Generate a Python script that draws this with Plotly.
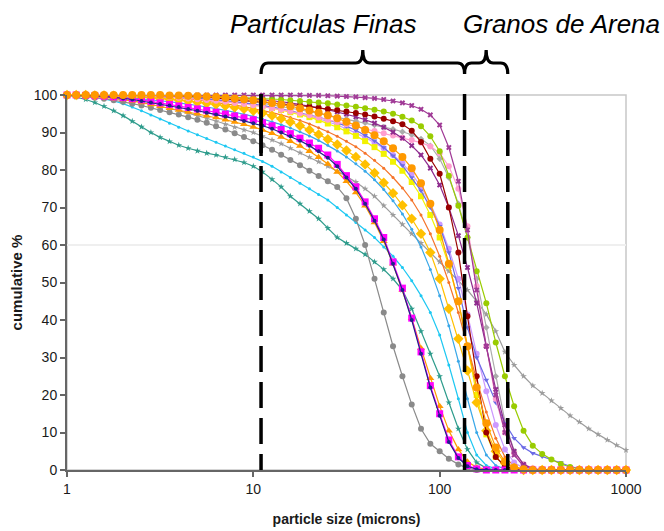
import math
import plotly.graph_objects as go

# ---------------- data ----------------
sizes = [1.00, 1.12, 1.26, 1.41, 1.58, 1.78, 2.00, 2.24, 2.51, 2.82,
         3.16, 3.55, 3.98, 4.47, 5.01, 5.62, 6.31, 7.08, 7.94, 8.91,
         10.0, 11.2, 12.6, 14.1, 15.8, 17.8, 20.0, 22.4, 25.1, 28.2,
         31.6, 35.5, 39.8, 44.7, 50.1, 56.2, 63.1, 70.8, 79.4, 89.1,
         100, 112, 126, 141, 158, 178, 200, 224, 251, 282,
         316, 355, 398, 447, 501, 562, 631, 708, 794, 891, 1000]

teal = [100, 99.5, 98.8, 98, 97, 95.8, 94.5, 93, 91.5, 90,
        88.7, 87.6, 86.6, 85.8, 85.1, 84.5, 84, 83.4, 82.8, 82,
        81, 79.5, 77.5, 75.5, 73, 71, 69, 67, 64.5, 62,
        60.5, 59, 57.5, 55.5, 53.5, 51, 48, 43, 37, 31,
        25, 18, 11, 5.5, 2, 0.5, 0, 0, 0, 0,
        0, 0, 0, 0, 0, 0, 0, 0, 0, 0, 0]

cyan = [100, 99.9, 99.7, 99.4, 99, 98.4, 97.7, 96.8, 95.8, 94.7,
        93.6, 92.5, 91.4, 90.4, 89.4, 88.4, 87.4, 86.4, 85.4, 84.5,
        83.5, 82.3, 81, 79.5, 78, 76.5, 75, 73.5, 72, 70,
        68, 66, 64, 62, 59.5, 57, 54, 50.5, 46.5, 42,
        36, 28, 19, 10, 4, 1.2, 0.3, 0, 0, 0,
        0, 0, 0, 0, 0, 0, 0, 0, 0, 0, 0]

gray_round = [100, 99.8, 99.6, 99.3, 99, 98.6, 98.2, 97.7, 97.2, 96.6,
              96, 95.4, 94.8, 94.1, 93.4, 92.6, 91.7, 90.8, 89.8, 88.8,
              87.7, 86.6, 85.4, 84.1, 82.7, 81.3, 79.8, 78.4, 77, 75.5,
              72.5, 67, 60, 51, 42, 33, 25, 17.5, 11, 7,
              5, 3, 1.5, 0.5, 0, 0, 0, 0, 0, 0,
              0, 0, 0, 0, 0, 0, 0, 0, 0, 0, 0]

gray_tail = [100, 99.9, 99.8, 99.6, 99.4, 99.1, 98.8, 98.4, 98, 97.5,
             97, 96.4, 95.8, 95.2, 94.5, 93.8, 93, 92.2, 91.4, 90.7,
             90, 89, 88, 87, 85.8, 84.6, 83.4, 82.2, 81, 79.7,
             78.3, 76.8, 75, 73, 70.5, 68, 65.5, 63, 60.5, 58,
             55.5, 53, 50.5, 48, 45, 41.5, 37, 31.5, 28, 25,
             22.5, 20.5, 18.5, 16.5, 14.5, 12.8, 11, 9.5, 8, 6.6, 5.3]

gray_light = [100, 100, 100, 100, 100, 100, 100, 100, 100, 100,
              100, 100, 99.9, 99.8, 99.7, 99.5, 99.3, 99.1, 98.8, 98.5,
              98.2, 97.8, 97.4, 97, 96.6, 96.1, 95.6, 95.1, 94.6, 94.1,
              93.6, 93.1, 92.6, 92, 91.5, 90.9, 90.2, 89.4, 88.3, 86.5,
              83, 78, 71, 62, 51, 38, 25, 13, 5, 1.5,
              0.3, 0, 0, 0, 0, 0, 0, 0, 0, 0, 0]

navy = [100, 100, 99.9, 99.8, 99.6, 99.4, 99.1, 98.8, 98.4, 98,
        97.6, 97.2, 96.8, 96.3, 95.8, 95.3, 94.8, 94.3, 93.7, 93.1,
        92.5, 91.8, 91, 90, 89, 87.8, 86.5, 85, 83.3, 81,
        78, 75, 71, 66.5, 61.5, 55, 48, 40, 31, 22,
        14.5, 7.5, 3.2, 1, 0.2, 0, 0, 0, 0, 0,
        0, 0, 0, 0, 0, 0, 0, 0, 0, 0, 0]

orange_tri = [100, 99.9, 99.8, 99.6, 99.4, 99.1, 98.8, 98.4, 98, 97.5,
              97, 96.5, 96, 95.5, 95, 94.5, 94, 93.4, 92.8, 92.2,
              91.5, 90.7, 89.8, 88.8, 87.7, 86.4, 85, 83.4, 81.6, 79.5,
              77, 74, 70.5, 66, 61, 55, 48, 40.5, 32.5, 24.5,
              17, 10.5, 5.5, 2.2, 0.7, 0.2, 0, 0, 0, 0,
              0, 0, 0, 0, 0, 0, 0, 0, 0, 0, 0]

magenta = [100, 100, 99.9, 99.8, 99.7, 99.5, 99.3, 99, 98.7, 98.3,
           97.9, 97.5, 97.1, 96.7, 96.3, 95.9, 95.4, 94.9, 94.4, 93.9,
           93.4, 92.6, 91.8, 90.8, 89.7, 88.5, 87.2, 85.8, 84, 81.5,
           78.5, 75.5, 71.5, 67, 62, 55.5, 48.5, 40.5, 31.5, 22.5,
           15, 8, 3.5, 1.2, 0.3, 0, 0, 0, 0, 0,
           0, 0, 0, 0, 0, 0, 0, 0, 0, 0, 0]

gold = [100, 100, 100, 99.9, 99.9, 99.8, 99.7, 99.6, 99.5, 99.3,
        99.1, 98.9, 98.7, 98.4, 98.1, 97.8, 97.5, 97.1, 96.7, 96.3,
        95.8, 95.2, 94.5, 93.7, 92.8, 91.8, 90.7, 89.5, 88.2, 86.8,
        85.2, 83.5, 81.5, 79.2, 76.6, 73.8, 70.6, 67, 63, 58,
        51, 43, 35, 26.5, 18, 10.5, 5, 1.8, 0.5, 0,
        0, 0, 0, 0, 0, 0, 0, 0, 0, 0, 0]

yellow = [100, 100, 100, 100, 100, 100, 99.9, 99.9, 99.8, 99.8,
          99.7, 99.6, 99.5, 99.3, 99.1, 98.9, 98.7, 98.4, 98.1, 97.8,
          97.4, 97, 96.5, 96, 95.4, 94.8, 94.1, 93.3, 92.4, 91.4,
          90.3, 89.1, 87.7, 86.1, 84.3, 82.2, 79.8, 76.8, 73, 68,
          62, 54.5, 45, 33, 20, 9.5, 3.5, 1, 0.2, 0,
          0, 0, 0, 0, 0, 0, 0, 0, 0, 0, 0]

sky_blue = [100, 100, 99.9, 99.8, 99.7, 99.6, 99.4, 99.2, 99, 98.8,
            98.5, 98.2, 97.9, 97.6, 97.2, 96.8, 96.4, 95.9, 95.4, 94.9,
            94.3, 93.6, 92.9, 92.1, 91.2, 90.2, 89.1, 87.9, 86.6, 85.1,
            83.5, 81.7, 79.7, 77.4, 74.8, 71.8, 68.3, 64.2, 59.5, 53.5,
            46.5, 38.5, 29, 19, 10, 4, 1.2, 0.3, 0, 0,
            0, 0, 0, 0, 0, 0, 0, 0, 0, 0, 0]

orange_red = [100, 100, 100, 100, 100, 100, 99.9, 99.9, 99.8, 99.7,
              99.6, 99.4, 99.2, 99, 98.7, 98.4, 98.1, 97.7, 97.3, 96.9,
              96.4, 95.9, 95.3, 94.7, 94, 93.2, 92.3, 91.3, 90.2, 89,
              87.7, 86.2, 84.5, 82.6, 80.5, 78, 75.2, 72, 68, 63,
              57, 50, 42, 33, 24, 15.5, 8.5, 3.5, 1, 0.2,
              0, 0, 0, 0, 0, 0, 0, 0, 0, 0, 0]

lavender = [100, 100, 100, 100, 100, 100, 100, 100, 99.9, 99.9,
            99.8, 99.7, 99.6, 99.5, 99.3, 99.1, 98.9, 98.6, 98.3, 98,
            97.6, 97.2, 96.8, 96.3, 95.7, 95.1, 94.4, 93.7, 92.9, 92,
            91, 89.9, 88.7, 87.3, 85.8, 84, 81.8, 79, 75.5, 71,
            65.5, 59, 51, 41.5, 31, 21, 12, 5.5, 2, 0.5,
            0, 0, 0, 0, 0, 0, 0, 0, 0, 0, 0]

slate_blue = [100, 100, 100, 100, 100, 99.9, 99.9, 99.8, 99.8, 99.7,
              99.6, 99.5, 99.4, 99.3, 99.1, 98.9, 98.7, 98.5, 98.2, 97.9,
              97.6, 97.2, 96.8, 96.3, 95.8, 95.3, 94.7, 94.1, 93.4, 92.6,
              91.7, 90.6, 89.3, 87.8, 86, 83.8, 81.2, 78, 74.5, 70,
              65, 58, 48.5, 38, 30, 24, 18, 12.5, 8.5, 6,
              4.5, 3.6, 2.9, 2, 1, 0.3, 0, 0, 0, 0, 0]

pink = [100, 100, 100, 100, 100, 100, 100, 99.9, 99.8, 99.7,
        99.6, 99.5, 99.3, 99.1, 98.9, 98.7, 98.5, 98.2, 97.9, 97.6,
        97.3, 96.9, 96.5, 96.1, 95.6, 95.1, 94.6, 94, 93.4, 92.8,
        92.2, 91.6, 91, 90.4, 89.8, 89.2, 88.6, 88, 87.3, 86.3,
        84.5, 81, 75, 65, 49, 33, 19, 10, 4.5, 1.5,
        0.5, 0, 0, 0, 0, 0, 0, 0, 0, 0, 0]

purple_x = [100, 100, 100, 100, 100, 100, 100, 100, 100, 100,
            100, 100, 99.9, 99.9, 99.8, 99.7, 99.6, 99.5, 99.4, 99.2,
            99, 98.8, 98.5, 98.2, 97.9, 97.5, 97.1, 96.6, 96.1, 95.5,
            94.9, 94.2, 93.4, 92.5, 91.4, 90.1, 88.5, 86.5, 84, 80.5,
            76, 70, 62.5, 54, 44.5, 33, 21.5, 12, 5, 1.5,
            0.3, 0, 0, 0, 0, 0, 0, 0, 0, 0, 0]

maroon = [100, 100, 100, 100, 100, 100, 100, 100, 100, 100,
          100, 99.9, 99.8, 99.7, 99.6, 99.4, 99.2, 99, 98.8, 98.6,
          98.4, 98.2, 98, 97.8, 97.5, 97.2, 96.9, 96.6, 96.3, 96,
          95.6, 95.2, 94.8, 94.3, 93.7, 93, 92.2, 90.5, 87.5, 83,
          79, 70, 58, 41, 25, 10, 3.5, 1, 0.2, 0,
          0, 0, 0, 0, 0, 0, 0, 0, 0, 0, 0]

green = [100, 100, 100, 100, 100, 100, 100, 100, 100, 100,
         100, 99.9, 99.9, 99.8, 99.8, 99.7, 99.6, 99.5, 99.4, 99.3,
         99.2, 99.1, 99, 98.8, 98.6, 98.4, 98.2, 98, 97.8, 97.5,
         97.2, 96.9, 96.5, 96.1, 95.6, 95, 94.2, 93.2, 91.7, 89,
         85, 78.5, 70.5, 62, 53, 44.5, 34, 25, 17, 10.5,
         6.5, 4.3, 2.8, 1.6, 0.8, 0.3, 0, 0, 0, 0, 0]

purple_top = [100, 100, 100, 100, 100, 100, 100, 100, 100, 100,
              100, 100, 100, 100, 100, 100, 100, 100, 100, 100,
              100, 100, 100, 100, 100, 100, 99.9, 99.9, 99.8, 99.7,
              99.6, 99.5, 99.3, 99.1, 98.8, 98.4, 97.9, 97.2, 96.2, 94.7,
              92, 86, 77, 64, 48, 33, 20, 10, 4, 1,
              0.2, 0, 0, 0, 0, 0, 0, 0, 0, 0, 0]

orange_round = [100, 100, 100, 100, 100, 100, 100, 100, 100, 100,
                100, 99.9, 99.9, 99.8, 99.7, 99.6, 99.5, 99.3, 99.1, 98.9,
                98.6, 98.3, 97.9, 97.5, 97, 96.5, 95.9, 95.3, 94.6, 93.8,
                92.9, 91.9, 90.7, 89.3, 87.7, 85.8, 83.5, 80.5, 76.5, 71,
                64, 55, 45, 33, 22, 12.5, 6, 2.2, 0.7, 0.2,
                0, 0, 0, 0, 0, 0, 0, 0, 0, 0, 0]

x_tick_vals = [1, 10, 100, 1000]
x_tick_text = ["1", "10", "100", "1000"]
y_tick_vals = [0, 10, 20, 30, 40, 50, 60, 70, 80, 90, 100]
boundaries = [11, 136, 232]          # particle-size limits marked by dashed lines
region_labels = ["Partículas Finas", "Granos de Arena"]
x_title = "particle size (microns)"
y_title = "cumulative %"

# ---------------- styles (drawing order) ----------------
series = [
    (teal, "#2E9C8C", "star", 5),
    (cyan, "#1EC8F2", "circle", 3),
    (gray_round, "#8A8A8A", "circle", 6),
    (gray_tail, "#9C9C9C", "star", 5),
    (gray_light, "#ABABAB", "diamond", 5),
    (sky_blue, "#3AA8E8", "circle", 3),
    (orange_red, "#F5742A", "circle", 3),
    (lavender, "#CC99FF", "circle", 6),
    (yellow, "#F2F200", "square", 6),
    (gold, "#FFC000", "diamond", 8),
    (slate_blue, "#6B6BE6", "triangle-down", 5),
    (pink, "#FF9ECF", "circle", 6),
    (purple_x, "#8E2A8E", "x", 5),
    (maroon, "#990000", "circle", 6),
    (green, "#99CC00", "circle", 6),
    (purple_top, "#A03A96", "x", 5),
    (orange_tri, "#FF9900", "triangle-up", 7),
    (magenta, "#FF00FF", "square", 7),
    (navy, "#22228A", "circle", 4),
    (orange_round, "#FF9900", "circle", 8),
]

fig = go.Figure()
for vals, color, sym, ms in series:
    assert len(vals) == len(sizes), len(vals)
    fig.add_trace(go.Scatter(
        x=sizes, y=vals, mode="lines+markers",
        line=dict(color=color, width=1.2),
        marker=dict(color=color, symbol=sym, size=ms, line=dict(width=0)),
        cliponaxis=False, hoverinfo="skip", showlegend=False))

axis_font = "Liberation Sans, Arial, sans-serif"

fig.update_layout(
    width=664, height=531,
    margin=dict(l=67, r=38, t=95, b=61, autoexpand=False),
    paper_bgcolor="white", plot_bgcolor="white",
    showlegend=False,
    font=dict(family=axis_font, color="#1a1a1a"),
)

fig.update_xaxes(
    type="log", range=[0, 3], automargin=False,
    tickvals=x_tick_vals, ticktext=x_tick_text,
    ticks="outside", ticklen=5, tickwidth=1.5, tickcolor="#666666",
    showline=True, linecolor="#666666", linewidth=2,
    showgrid=False, zeroline=False,
    tickfont=dict(size=14),
    title=dict(text="<b>" + x_title + "</b>", font=dict(size=14), standoff=18),
)
fig.update_yaxes(
    range=[0, 100], tickvals=y_tick_vals, automargin=False,
    ticks="outside", ticklen=5, tickwidth=1.5, tickcolor="#666666",
    showline=True, linecolor="#666666", linewidth=2,
    showgrid=False, zeroline=False,
    tickfont=dict(size=14),
    title=dict(text="<b>" + y_title + "</b>", font=dict(size=15), standoff=8),
)

shapes = []
# light plot-area border (top/right)
shapes.append(dict(type="rect", xref="paper", yref="paper", x0=0, x1=1, y0=0, y1=1,
                   line=dict(color="#C8C8C8", width=1.5), layer="below"))
# faint horizontal line at 60 %
shapes.append(dict(type="line", xref="paper", yref="y", x0=0, x1=1, y0=60, y1=60,
                   line=dict(color="#EFEFEF", width=2), layer="below"))

def xp(d):
    return math.log10(d) / 3.0

# dashed boundary lines (drawn from top to bottom)
for b in boundaries:
    shapes.append(dict(type="line", xref="paper", yref="paper",
                       x0=xp(b), x1=xp(b), y0=1.003, y1=0.0,
                       line=dict(color="black", width=3.5, dash="26px,10px"),
                       layer="above"))
# solid top portion of the first line
shapes.append(dict(type="line", xref="paper", yref="paper",
                   x0=xp(boundaries[0]), x1=xp(boundaries[0]), y0=1.003, y1=(470 - 153) / 375,
                   line=dict(color="black", width=3.5), layer="above"))

# brackets above the plot
y_end = (470 - 74) / 375
y_h = (470 - 63) / 375
y_pk = (470 - 50) / 375
rx = 7 / 559

def bracket(xa, xb):
    xc = (xa + xb) / 2
    return (f"M {xa},{y_end} Q {xa},{y_h} {xa + rx},{y_h} L {xc - rx},{y_h} "
            f"Q {xc},{y_h} {xc},{y_pk} M {xc},{y_pk} Q {xc},{y_h} {xc + rx},{y_h} "
            f"L {xb - rx},{y_h} Q {xb},{y_h} {xb},{y_end}")

for a, b in [(boundaries[0], boundaries[1]), (boundaries[1], boundaries[2])]:
    shapes.append(dict(type="path", xref="paper", yref="paper",
                       path=bracket(xp(a), xp(b)),
                       line=dict(color="black", width=3.2), layer="above"))

fig.update_layout(shapes=shapes)

fig.add_annotation(text="<i>" + region_labels[0] + "</i>", xref="paper", yref="paper",
                   x=(323 - 67) / 559, y=(470 - 24) / 375, xanchor="center", yanchor="middle",
                   showarrow=False, font=dict(size=26, color="black", family=axis_font))
fig.add_annotation(text="<i>" + region_labels[1] + "</i>", xref="paper", yref="paper",
                   x=(461 - 67) / 559, y=(470 - 24) / 375, xanchor="left", yanchor="middle",
                   showarrow=False, font=dict(size=26, color="black", family=axis_font))

fig.write_html("out.html")
